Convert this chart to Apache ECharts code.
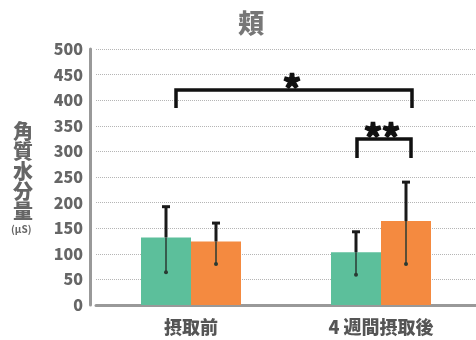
<!DOCTYPE html>
<html>
<head>
<meta charset="utf-8">
<script src="https://cdn.jsdelivr.net/npm/echarts@6/dist/echarts.min.js"></script>
<style>
html, body { margin: 0; padding: 0; background: #fff; }
#main { width: 476px; height: 340px; }
</style>
</head>
<body>
<div id="main"></div>
<script>
var categories = ['摂取前', '4 週間摂取後'];
// 平均値
var meanA = [132, 103];
var meanB = [124, 164];
// エラーバー (下限, 上限)
var lowA = [64, 59];
var highA = [192, 143];
var lowB = [80, 80];
var highB = [160, 240];
// 有意差
var sigFrom = [0, 1];
var sigTo = [1, 1];
var sigTop = [420, 324];
var sigLeg = [385, 287];
var sigText = ['*', '**'];

var FONT = '"Noto Sans CJK JP", "Noto Sans", sans-serif';
var BAR_W = 50;

function errData(mean, low, high) {
	var out = [];
	for (var i = 0; i < mean.length; i++) out.push([i, mean[i], low[i], high[i]]);
	return out;
}

function errRender(shift) {
	return function (params, api) {
		var x = api.coord([api.value(0), 0])[0] + shift;
		var yMean = api.coord([api.value(0), api.value(1)])[1];
		var yLow = api.coord([api.value(0), api.value(2)])[1];
		var yHigh = api.coord([api.value(0), api.value(3)])[1];
		return {
			type: 'group',
			children: [
				{ type: 'line', shape: { x1: x, y1: yLow, x2: x, y2: yMean }, style: { stroke: '#2a3a33', lineWidth: 1.5 } },
				{ type: 'line', shape: { x1: x, y1: yMean, x2: x, y2: yHigh }, style: { stroke: '#1a1a1a', lineWidth: 3 } },
				{ type: 'line', shape: { x1: x - 4, y1: yHigh, x2: x + 4, y2: yHigh }, style: { stroke: '#1a1a1a', lineWidth: 3 } },
				{ type: 'circle', shape: { cx: x, cy: yLow, r: 2 }, style: { fill: '#2a3a33' } }
			]
		};
	};
}

// ブラケット左右の位置 (カテゴリ中心からのpx)
var sigShiftL = [-15, -24];
var sigShiftR = [31, 30];

var sigData = [];
for (var i = 0; i < sigFrom.length; i++) sigData.push([sigFrom[i], sigTo[i], sigTop[i], sigLeg[i], i]);

function sigRender(params, api) {
	var k = api.value(4);
	var x1 = api.coord([api.value(0), 0])[0] + sigShiftL[k];
	var x2 = api.coord([api.value(1), 0])[0] + sigShiftR[k];
	var yt = api.coord([0, api.value(2)])[1];
	var yl = api.coord([0, api.value(3)])[1];
	return {
		type: 'group',
		children: [
			{ type: 'polyline', shape: { points: [[x1, yl], [x1, yt], [x2, yt], [x2, yl]] }, style: { stroke: '#111', lineWidth: 3.5, fill: null } },
			{ type: 'text', style: { text: sigText[k], x: (x1 + x2) / 2 - 2, y: yt - 2, textAlign: 'center', textVerticalAlign: 'middle', font: '900 34px ' + FONT, fill: '#111', stroke: '#111', lineWidth: 1.5 } }
		]
	};
}

var option = {
	animation: false,
	title: {
		text: '頬',
		left: 246,
		top: 5,
		textAlign: 'center',
		textStyle: { fontFamily: FONT, fontSize: 26, fontWeight: 900, color: '#777' }
	},
	grid: { left: 96, right: 0, top: 49, bottom: 35 },
	graphic: [
		{ type: 'text', left: 13, top: 121, style: { text: '角\n質\n水\n分\n量', font: '900 20px ' + FONT, lineHeight: 20, fill: '#666' } },
		{ type: 'text', left: 11, top: 224, style: { text: '(μS)', font: 'bold 10px ' + FONT, fill: '#666' } }
	],
	xAxis: {
		type: 'category',
		data: categories,
		axisLine: { lineStyle: { color: '#999', width: 3 } },
		axisTick: { show: false },
		axisLabel: { margin: 13, fontFamily: FONT, fontSize: 18, fontWeight: 900, color: '#555' }
	},
	yAxis: {
		type: 'value',
		min: 0,
		max: 500,
		interval: 50,
		offset: 6,
		axisLine: { show: true, lineStyle: { color: '#999', width: 3 } },
		axisTick: { show: false },
		axisLabel: { margin: 7, fontFamily: FONT, fontSize: 16, fontWeight: 900, color: '#666' },
		splitLine: { lineStyle: { type: 'dotted', color: '#b5b5b5', width: 1 } }
	},
	series: [
		{ type: 'bar', data: meanA, barWidth: BAR_W, barGap: '0%', itemStyle: { color: '#5cbf9b' } },
		{ type: 'bar', data: meanB, barWidth: BAR_W, barGap: '0%', itemStyle: { color: '#f48a40' } },
		{ type: 'custom', renderItem: errRender(-BAR_W / 2), data: errData(meanA, lowA, highA), encode: { x: 0, y: [1, 2, 3] }, z: 5 },
		{ type: 'custom', renderItem: errRender(BAR_W / 2), data: errData(meanB, lowB, highB), encode: { x: 0, y: [1, 2, 3] }, z: 5 },
		{ type: 'custom', renderItem: sigRender, data: sigData, encode: { x: [0, 1], y: [2, 3] }, z: 6 }
	]
};

var myChart = echarts.init(document.getElementById('main'));
myChart.setOption(option);
</script>
</body>
</html>
